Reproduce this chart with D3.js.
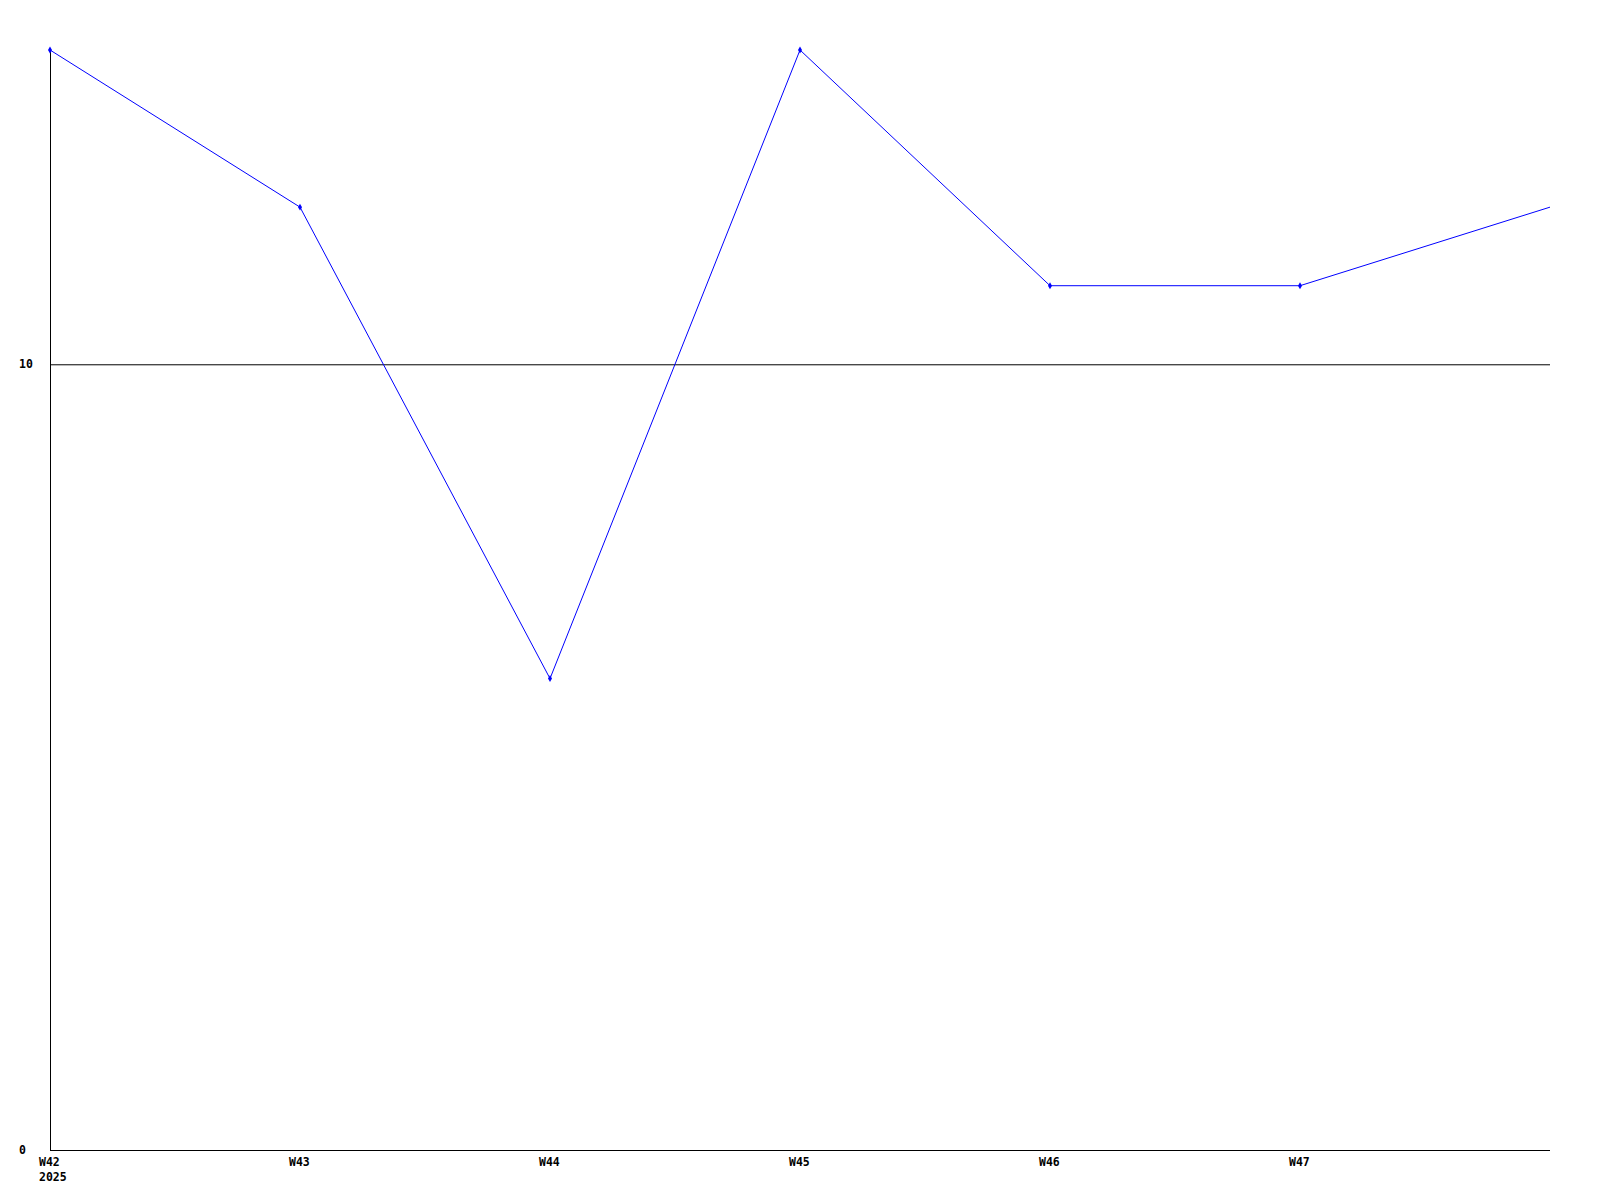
<!DOCTYPE html>
<html>
<head>
<meta charset="utf-8">
<script src="https://cdn.jsdelivr.net/npm/d3@7"></script>
<style>
  body { margin: 0; background: #fff; }
  text { font-family: "DejaVu Sans Mono", monospace; font-size: 11.5px; font-weight: bold; }
</style>
</head>
<body>
<div id="chart"></div>
<script>
// weeks on the x axis; W48 is the open end of the range
const weeks = ['W42', 'W43', 'W44', 'W45', 'W46', 'W47', 'W48'];
const tickWeeks = ['W42', 'W43', 'W44', 'W45', 'W46', 'W47'];
const values = [14, 12, 6, 14, 11, 11, 12];
const yTicks = [0, 10];
const year = '2025';

var margin = {top: 50, right: 50, bottom: 50, left: 50};
var width = 1600 - margin.left - margin.right;
var height = 1200 - margin.top - margin.bottom;

var svg = d3.select('#chart').append('svg')
    .attr('width', 1600)
    .attr('height', 1200)
    .append('g')
    .attr('transform', 'translate(' + margin.left + ',' + margin.top + ')');

var x = d3.scalePoint().domain(weeks).range([0, width]);
var y = d3.scaleLinear().domain([0, 14]).range([height, 0]);

// horizontal line at 10
svg.append('g').selectAll('line')
    .data(yTicks.filter(d => d > 0))
    .join('line')
    .attr('x1', 0).attr('x2', width)
    .attr('y1', d => y(d) + 0.5).attr('y2', d => y(d) + 0.5)
    .attr('stroke', '#000');

// axes
svg.append('line')
    .attr('x1', 0.5).attr('x2', 0.5)
    .attr('y1', 0).attr('y2', height)
    .attr('stroke', '#000');
svg.append('line')
    .attr('x1', 0).attr('x2', width)
    .attr('y1', height + 0.5).attr('y2', height + 0.5)
    .attr('stroke', '#000');

svg.append('g').selectAll('text')
    .data(yTicks)
    .join('text')
    .attr('x', -31)
    .attr('y', d => y(d))
    .attr('dy', '0.35em')
    .attr('text-anchor', 'start')
    .text(d => d);

svg.append('g').selectAll('text')
    .data(tickWeeks)
    .join('text')
    .attr('x', d => x(d) - 11)
    .attr('y', height + 16)
    .attr('text-anchor', 'start')
    .text(d => d);

svg.append('text')
    .attr('x', x(weeks[0]) - 11)
    .attr('y', height + 31)
    .attr('text-anchor', 'start')
    .text(year);

var data = weeks.map((w, i) => ({w: w, v: values[i]}));

var line = d3.line().x(d => x(d.w)).y(d => y(d.v));
svg.append('path')
    .datum(data)
    .attr('d', line)
    .attr('fill', 'none')
    .attr('stroke', '#0000ff')
    .attr('stroke-width', 1);

// small diamond markers (not on the open end)
svg.append('g').selectAll('path')
    .data(data.slice(0, tickWeeks.length))
    .join('path')
    .attr('d', d3.symbol().type(d3.symbolDiamond).size(14))
    .attr('transform', d => 'translate(' + x(d.w) + ',' + y(d.v) + ')')
    .attr('fill', '#0000ff');
</script>
</body>
</html>
